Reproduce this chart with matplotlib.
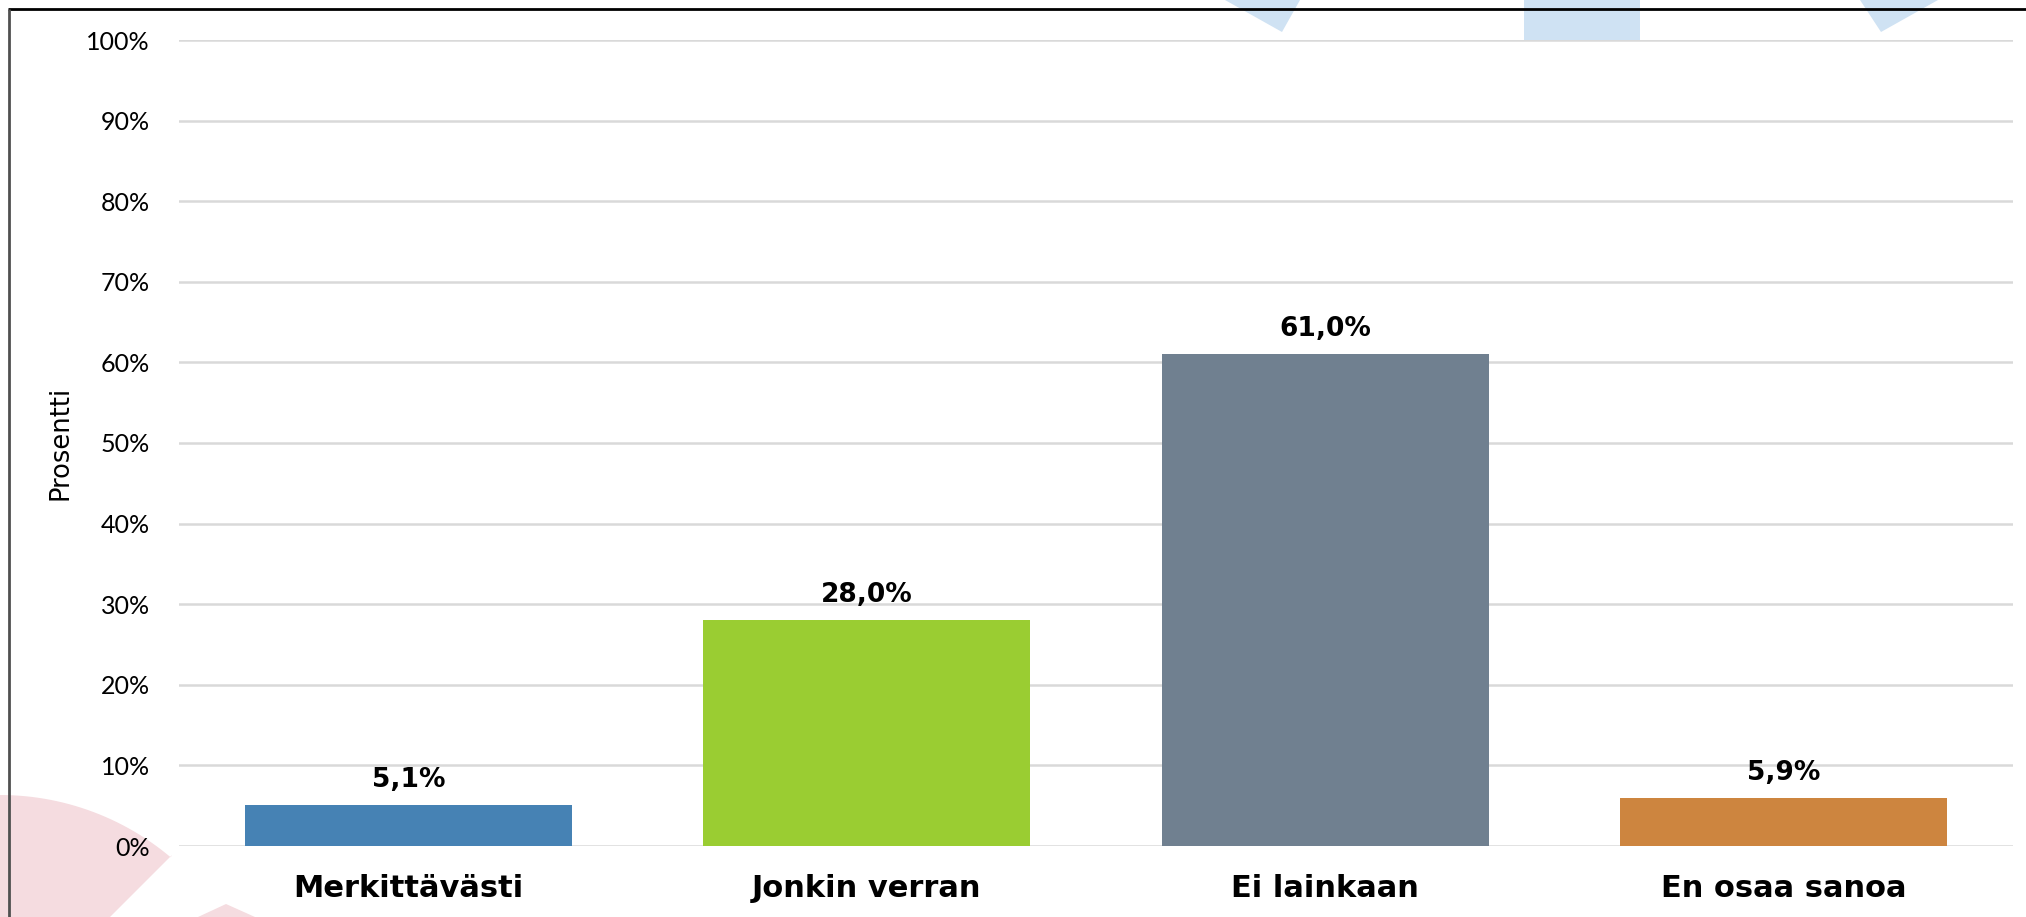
import matplotlib.pyplot as plt
from matplotlib.patches import Polygon
import numpy as np

categories = ["Merkittävästi", "Jonkin verran", "Ei lainkaan", "En osaa sanoa"]
values = [5.1, 28.0, 61.0, 5.9]
colors = ["#4682B4", "#9ACD32", "#708090", "#CD853F"]
yticks = [0, 10, 20, 30, 40, 50, 60, 70, 80, 90, 100]

W, H = 2026, 917
fig = plt.figure(figsize=(W / 100, H / 100), dpi=100)

# background decoration, pixel coordinates
bg = fig.add_axes([0, 0, 1, 1])
bg.set_xlim(0, W)
bg.set_ylim(H, 0)
bg.axis("off")

blue = "#CFE2F3"
pink = "#F5DCE0"
bg.add_patch(Polygon([(1225, 0), (1300, 0), (1282, 32)], closed=True, color=blue, lw=0))
bg.add_patch(Polygon([(1524, 0), (1640, 0), (1640, 40), (1524, 40)], closed=True, color=blue, lw=0))
bg.add_patch(Polygon([(1860, 0), (1938, 0), (1881, 32)], closed=True, color=blue, lw=0))

t = np.linspace(np.pi / 2, np.pi / 2 - 0.70, 30)
arc = [(0 + 265 * np.cos(a), 1060 - 265 * np.sin(a)) for a in t]
bg.add_patch(Polygon([(0, 795)] + arc + [(172, 855), (110, 917), (0, 917)], closed=True, color=pink, lw=0))
bg.add_patch(Polygon([(226, 904), (255, 917), (198, 917)], closed=True, color=pink, lw=0))

bg.plot([8, W], [9, 9], color="black", lw=2, zorder=5, solid_capstyle="butt")
bg.plot([9, 9], [9, H], color="#505050", lw=2, zorder=5, solid_capstyle="butt")

# main chart
ax = fig.add_axes([179 / W, 71 / H, 1834 / W, 806 / H])
ax.patch.set_alpha(0)
x = np.arange(len(categories))
ax.bar(x, values, width=0.714, color=colors, zorder=3)
ax.set_xlim(-0.5, len(categories) - 0.5)
ax.set_ylim(0, 100)
ax.set_yticks(yticks)
ax.set_yticklabels(["{}%".format(v) for v in yticks], fontsize=18, family="Lato")
ax.yaxis.grid(True, color="#D9D9D9", lw=1.8, zorder=0)
ax.set_xticks(x)
ax.set_xticklabels(categories, fontsize=22, fontweight="bold", family="DejaVu Sans")
ax.tick_params(axis="y", length=0, pad=21)
ax.tick_params(axis="x", length=0, pad=20)
for s in ax.spines.values():
    s.set_visible(False)

for xi, v in zip(x, values):
    ax.annotate("{:.1f}%".format(v).replace(".", ","), (xi, v), xytext=(0, 13),
                textcoords="offset points", ha="center", va="baseline",
                fontsize=19, fontweight="bold", family="DejaVu Sans")

fig.text(60 / W, 1 - 443 / H, "Prosentti", rotation=90, ha="center", va="center",
         fontsize=18.5, family=["Liberation Sans Narrow", "DejaVu Sans"])

fig.savefig("out.png", dpi=100)
